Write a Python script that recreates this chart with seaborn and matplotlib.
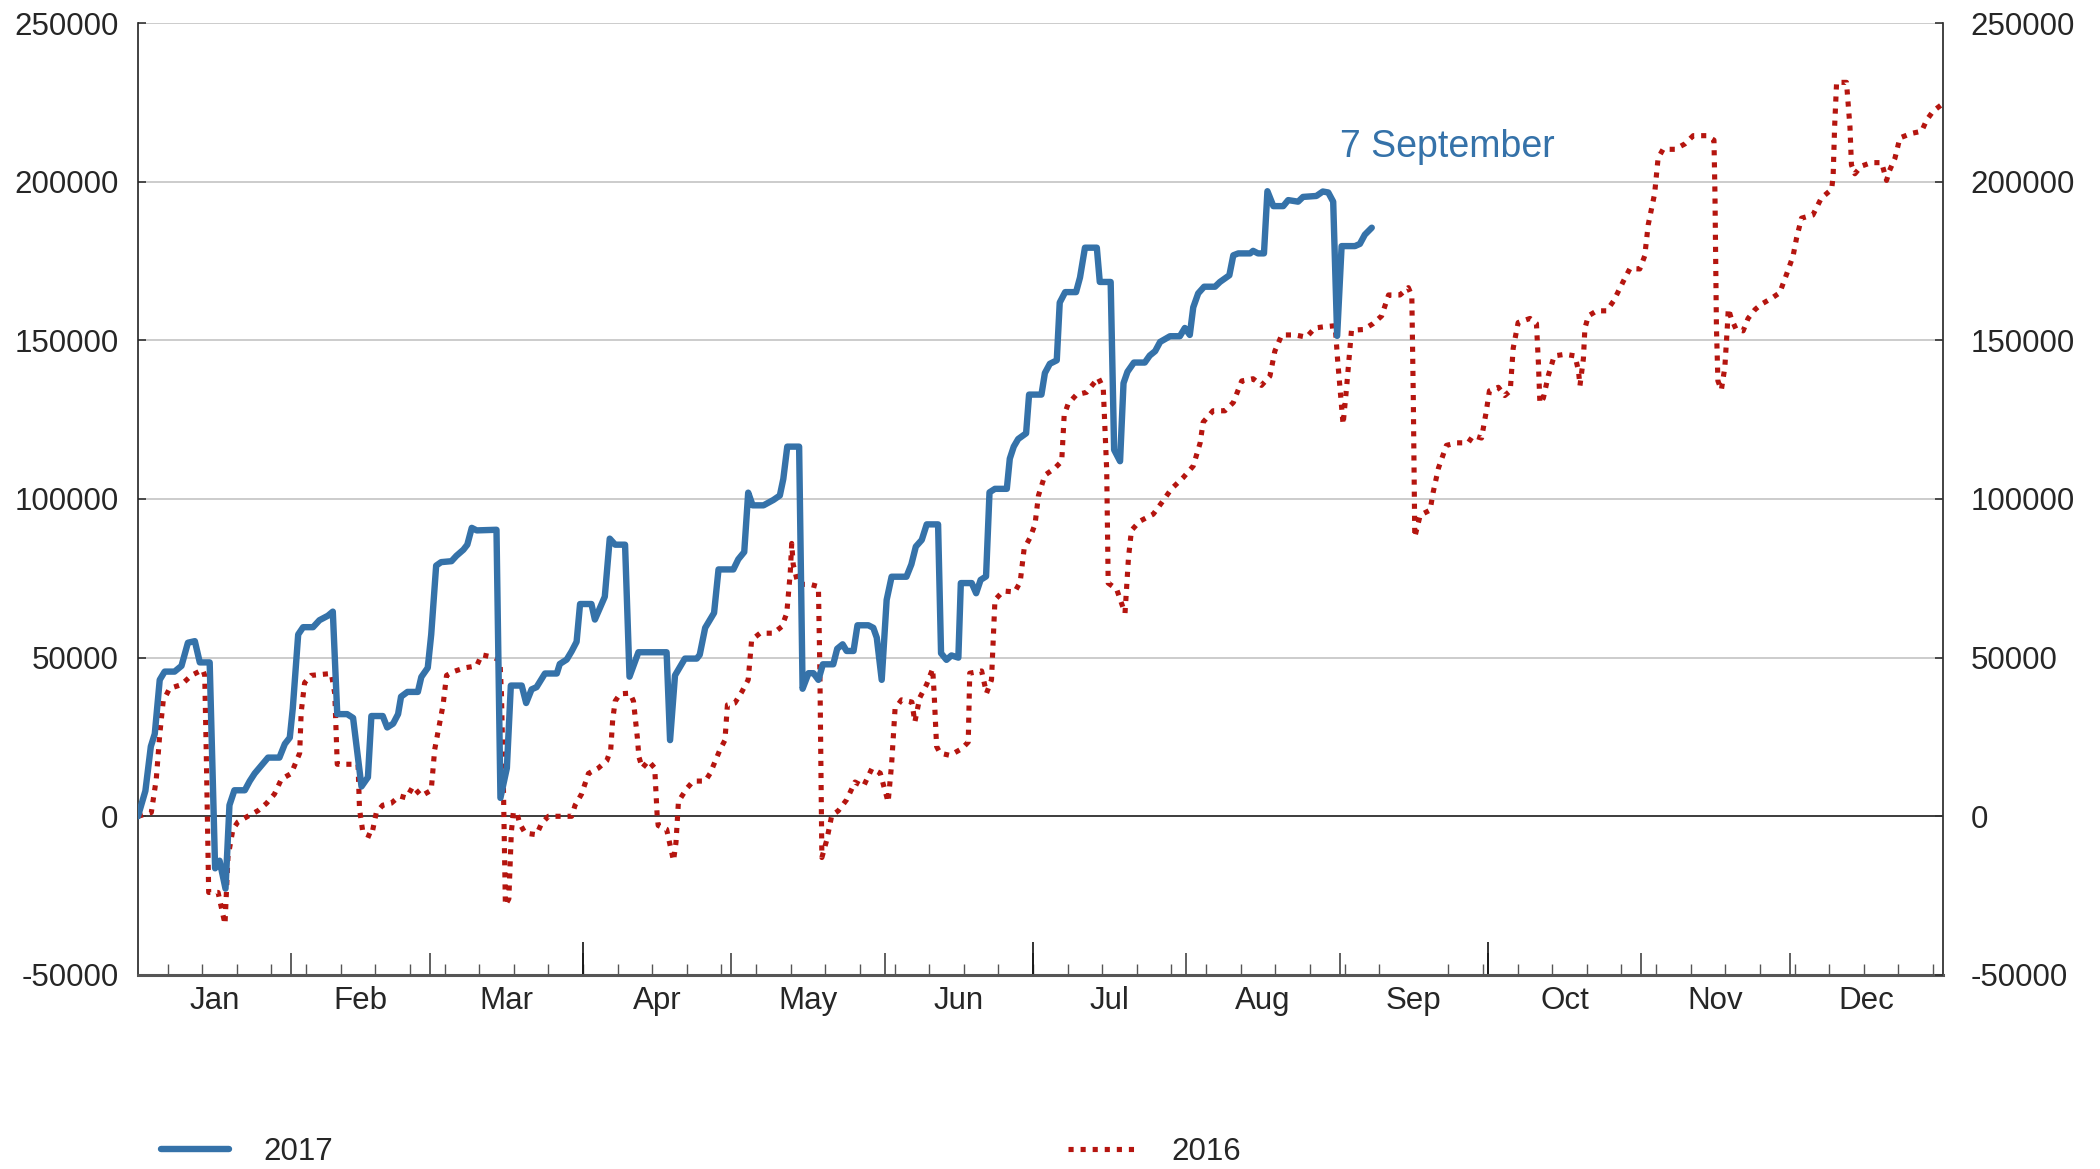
import matplotlib
matplotlib.use("Agg")
import pandas as pd
import seaborn as sns
import matplotlib.pyplot as plt

# 2017 series (day of year, value)
days_2017 = [0, 1.5, 2.6, 3.4, 4.4, 5.4, 7.4, 8.8, 10.1, 11.5, 12.5, 14.5, 15.6, 16.5, 17.7, 18.5, 19.5, 21.6,
             22.6, 23.6, 26.3, 28.6, 29.7, 30.7, 31.3, 32.4, 33.4, 35.4, 36.7, 38.4, 39.4, 40.3, 42.3, 43.5,
             45.2, 46.5, 47.2, 49.5, 50.4, 51.6, 52.6, 53.2, 54.5, 56.6, 57.3, 58.6, 59.3, 60.3, 61.3, 63.4,
             64.4, 65.8, 66.6, 67.5, 68.5, 72.5, 73.3, 74.6, 75.4, 77.6, 78.5, 79.6, 80.6, 82.3, 84.7, 85.3,
             86.7, 87.7, 88.7, 89.4, 91.7, 92.4, 94.4, 95.4, 96.5, 98.5, 99.4, 101.2, 106.9, 107.6, 108.6,
             110.6, 113.0, 113.6, 114.7, 115.7, 116.5, 117.4, 120.4, 121.4, 122.6, 123.4, 124.3, 126.5, 128.5,
             129.8, 130.5, 131.3, 133.7, 134.4, 135.6, 136.6, 137.6, 138.5, 140.6, 141.4, 142.5, 143.3, 144.7,
             145.5, 147.7, 148.7, 149.4, 150.4, 151.4, 152.4, 155.4, 156.4, 157.3, 158.5, 159.5, 161.8, 162.4,
             163.5, 164.5, 165.9, 166.4, 168.6, 169.5, 170.4, 171.5, 172.2, 173.3, 175.7, 176.3, 177.1, 178.0,
             179.6, 180.2, 182.7, 183.4, 184.4, 185.8, 186.4, 187.5, 189.7, 190.5, 191.5, 193.9, 194.5, 196.7,
             197.4, 198.6, 199.3, 200.1, 201.4, 203.6, 204.6, 205.7, 206.7, 208.7, 210.7, 211.7, 212.7, 213.4,
             214.4, 215.6, 217.8, 218.8, 220.7, 221.5, 222.5, 224.9, 225.5, 226.5, 227.7, 228.4, 229.6, 231.6,
             232.6, 234.6, 235.6, 238.3, 239.6, 240.7, 241.7, 242.5, 243.4, 246.1, 247.1, 248.1, 249.5]
values_2017 = [0, 8000, 22000, 26000, 43000, 45600, 45600, 47400, 54700, 55200, 48500, 48500, -16400, -14000,
               -22800, 3500, 8200, 8200, 11100, 13500, 18500, 18500, 22800, 24800, 33900, 57300, 59600, 59600,
               61800, 63200, 64500, 32200, 32200, 31000, 9400, 12300, 31600, 31600, 28000, 29200, 32200, 37700,
               39200, 39200, 43900, 46800, 57300, 79000, 80100, 80400, 82100, 84000, 85600, 90900, 90100, 90300,
               5800, 15200, 41200, 41200, 35700, 40000, 40700, 45000, 45000, 48000, 49400, 52000, 55000, 66900,
               66900, 62000, 69200, 87500, 85600, 85600, 44000, 51700, 51700, 24000, 44400, 49700, 49700, 50900,
               59400, 62000, 64100, 77800, 77800, 81000, 83300, 102000, 98000, 98000, 99700, 101100, 106300,
               116500, 116500, 40200, 45100, 45100, 43000, 47900, 47900, 52800, 54200, 52100, 52100, 60200,
               60200, 59400, 56300, 43000, 68200, 75500, 75500, 79400, 85000, 87100, 92000, 92000, 51400, 49300,
               50700, 50000, 73500, 73500, 70300, 74500, 75600, 102100, 103200, 103200, 112700, 116500, 118900,
               120700, 132900, 132900, 139700, 142600, 143700, 161900, 165200, 165200, 169800, 179200, 179200,
               168400, 168400, 115500, 111900, 136500, 140100, 143000, 143000, 145200, 146600, 149500, 151300,
               151300, 153900, 151700, 160400, 164800, 166900, 166900, 168400, 170500, 176800, 177400, 177400,
               178200, 177400, 177400, 197000, 192300, 192300, 194200, 193700, 195200, 195500, 196900, 196600,
               193700, 151400, 179700, 179700, 180400, 183300, 185500]

# 2016 series
days_2016 = [0, 2.7, 3.7, 4.4, 5.1, 6.4, 8.8, 10.8, 13.1, 13.5, 13.8, 14.3, 16.2, 17.6, 18.2, 19.2, 20.2, 22.2,
             24.3, 26.0, 27.6, 29.0, 31.0, 32.7, 33.0, 33.7, 35.0, 39.1, 39.8, 40.3, 44.5, 44.8, 45.5, 47.2,
             48.2, 49.5, 51.2, 52.9, 54.3, 55.6, 57.3, 59.3, 60.0, 61.0, 61.7, 62.4, 63.8, 66.1, 68.5, 69.5,
             71.9, 73.2, 73.5, 73.9, 74.3, 75.0, 75.5, 75.9, 76.6, 77.2, 78.3, 80.6, 81.6, 83.0, 87.7, 88.4,
             89.7, 91.1, 93.1, 94.8, 95.6, 96.0, 96.5, 97.5, 99.5, 100.2, 101.0, 101.3, 102.0, 103.2, 104.5,
             105.0, 105.2, 106.9, 108.3, 108.8, 109.3, 111.0, 112.3, 114.7, 115.7, 117.7, 118.7, 119.2, 120.7,
             122.1, 123.4, 124.1, 125.8, 128.5, 130.2, 131.2, 131.9, 132.2, 132.5, 133.5, 135.9, 137.6, 137.9,
             138.3, 139.3, 140.3, 141.6, 143.3, 145.0, 146.7, 148.4, 150.1, 151.7, 152.4, 153.1, 154.4, 156.5,
             157.1, 158.1, 159.5, 160.7, 161.0, 161.5, 162.2, 164.2, 166.6, 167.9, 168.2, 170.6, 171.6, 172.6,
             173.3, 175.0, 177.3, 178.4, 179.2, 180.4, 181.4, 182.1, 183.4, 185.4, 186.8, 187.3, 188.1, 189.8,
             191.8, 194.2, 195.2, 195.9, 196.2, 197.9, 199.6, 200.3, 200.9, 202.6, 205.3, 207.0, 209.0, 211.4,
             213.4, 214.8, 215.4, 217.4, 219.8, 221.5, 223.2, 225.5, 227.2, 228.9, 229.9, 231.3, 234.0, 236.3,
             238.0, 240.0, 242.1, 242.6, 243.7, 244.4, 245.4, 247.8, 249.8, 251.5, 252.9, 255.2, 256.9, 257.6,
             257.9, 258.2, 259.3, 261.3, 261.9, 263.0, 264.6, 266.7, 269.0, 270.0, 271.7, 272.6, 273.3, 275.1,
             276.4, 277.5, 278.1, 279.1, 281.5, 282.8, 283.2, 283.5, 284.2, 285.2, 286.4, 288.6, 290.6, 291.3,
             291.6, 292.3, 292.6, 293.3, 295.0, 297.0, 298.4, 300.4, 301.7, 303.7, 304.7, 305.4, 306.7, 307.4,
             308.4, 310.8, 312.8, 314.5, 317.2, 318.7, 318.9, 319.2, 319.5, 320.2, 320.9, 321.4, 321.6, 322.2,
             323.2, 324.6, 325.6, 327.0, 328.3, 330.3, 332.0, 333.4, 334.7, 335.4, 336.4, 338.7, 340.4, 342.5,
             342.8, 343.1, 343.5, 345.5, 346.2, 346.5, 347.2, 348.5, 350.5, 352.6, 353.6, 354.2, 355.3, 356.3,
             358.6, 360.7, 361.7, 363.0, 365.0]
values_2016 = [0, 1200, 11700, 25700, 36300, 40300, 41500, 44400, 46200, 44400, 21000, -24000, -24000, -34000,
               -12900, -4100, -1800, 0, 1800, 4100, 7000, 11700, 13500, 19900, 32700, 42100, 44400, 45000, 38600,
               16400, 16400, 2300, -5300, -6400, 1200, 3500, 4100, 6400, 5800, 9400, 6400, 8200, 21000, 29200,
               35100, 44400, 45600, 46800, 47400, 50900, 50100, 49100, 38600, 9400, -28000, -26000, -5000, 1200,
               1200, -2300, -5300, -5800, -2300, 0, 0, 3500, 7000, 13500, 15200, 17500, 21000, 30400, 36300,
               38600, 38800, 36300, 24600, 18700, 15200, 17500, 15200, 0, -2900, -4100, -14000, -8200, 4700,
               8800, 11100, 11100, 13500, 21000, 24000, 35100, 35700, 39200, 43000, 55600, 57700, 57700, 59800,
               64000, 76600, 86000, 79400, 73100, 73100, 72400, 45800, -13000, -7400, 300, 1700, 5200, 10800,
               9400, 15000, 13600, 4500, 16400, 33900, 36700, 36000, 29700, 37400, 41600, 46500, 38800, 22000,
               19900, 19200, 21300, 23400, 45100, 45800, 38800, 43000, 68200, 71000, 70700, 73800, 84300, 87800,
               92000, 101100, 107500, 109700, 111900, 126400, 130000, 132900, 133600, 138200, 135000, 109000,
               73500, 71600, 64000, 81400, 90100, 93000, 95200, 98800, 103200, 106800, 110400, 117700, 124200,
               127800, 127800, 130400, 137200, 137900, 135800, 138700, 146600, 151700, 151700, 151000, 153900,
               154300, 154600, 143700, 123500, 135000, 153200, 153400, 155300, 157700, 164300, 164300, 166600,
               164000, 131800, 88000, 94900, 96500, 102000, 109800, 116900, 117700, 117700, 120000, 119200,
               127100, 134100, 135200, 132600, 134100, 147500, 155600, 156900, 155300, 142800, 130200, 131800,
               138900, 145100, 145600, 145100, 140400, 135700, 144300, 153800, 157700, 159300, 159300, 162400,
               168700, 172600, 172500, 176600, 186400, 196200, 207400, 210200, 210200, 211900, 214500, 214500,
               213100, 196200, 154100, 137200, 134400, 141500, 154100, 160000, 156900, 153400, 153000, 156900,
               159700, 161400, 163200, 165000, 170900, 176600, 182200, 188500, 189500, 194800, 197600, 201800,
               217300, 231300, 231300, 217300, 205300, 202500, 204900, 206000, 206000, 200400, 203500, 207400,
               213800, 215200, 215900, 219400, 222200, 224600]

month_names = ["Jan", "Feb", "Mar", "Apr", "May", "Jun", "Jul", "Aug", "Sep", "Oct", "Nov", "Dec"]
month_edges = [0, 31, 59, 90, 120, 151, 181, 212, 243, 273, 304, 334, 365]
week_ticks = list(range(6, 365, 7))
y_ticks = [-50000, 0, 50000, 100000, 150000, 200000, 250000]

BLUE = "#3572a9"
RED = "#b5150f"
FS = 22.5

sns.set_style("white")
plt.rcParams["font.family"] = ["Liberation Sans", "DejaVu Sans"]

fig, ax = plt.subplots(figsize=(21, 11.69), dpi=100)
fig.subplots_adjust(left=0.0657, right=0.9252, top=0.9803, bottom=0.166)

df17 = pd.DataFrame({"day": days_2017, "value": values_2017})
df16 = pd.DataFrame({"day": days_2016, "value": values_2016})
sns.lineplot(data=df17, x="day", y="value", ax=ax, color=BLUE, linewidth=4.6, label="2017", zorder=4)
sns.lineplot(data=df16, x="day", y="value", ax=ax, color=RED, linewidth=3.7,
             linestyle=(0, (1.0, 1.35)), label="2016", zorder=3)
handles, labels = ax.get_legend_handles_labels()
ax.get_legend().remove()

ax.set_xlim(0, 365)
ax.set_ylim(-50000, 250000)
ax.set_xlabel("")
ax.set_ylabel("")

# y axis, labels on both sides
ax.set_yticks(y_ticks)
ax.set_yticklabels([str(v) for v in y_ticks])
ax.tick_params(axis="y", direction="in", length=6, width=1.2, color="#333", labelsize=FS, pad=14)
ax2 = ax.twinx()
ax2.set_ylim(-50000, 250000)
ax2.set_yticks(y_ticks)
ax2.set_yticklabels([str(v) for v in y_ticks])
ax2.tick_params(axis="y", direction="in", length=6, width=1.2, color="#333", labelsize=FS, pad=20)
for s in ax2.spines.values():
    s.set_visible(False)

ax.grid(axis="y", color="#c8c8c8", linewidth=1.3)
ax.grid(axis="x", visible=False)
ax.axhline(0, color="#333333", linewidth=1.3, zorder=2)

# x axis: month labels in the middle of each month, weekly small ticks
mids = [(month_edges[i] + month_edges[i + 1]) / 2 for i in range(12)]
ax.set_xticks(mids)
ax.set_xticklabels(month_names)
ax.set_xticks(week_ticks, minor=True)
ax.tick_params(axis="x", which="major", length=0, labelsize=FS, pad=8)
ax.tick_params(axis="x", which="minor", direction="in", length=8, width=1, color="#555", bottom=True)
ax.vlines(month_edges[1:-1], -50000, -50000 + 6900, color="#444", linewidth=1.2, zorder=2)
ax.vlines(month_edges[3:-1:3], -50000, -50000 + 10400, color="#111", linewidth=1.2, zorder=2)

ax.spines["top"].set_visible(False)
ax.spines["bottom"].set_color("#555")
ax.spines["bottom"].set_linewidth(2.2)
for side in ["left", "right"]:
    ax.spines[side].set_color("#222")
    ax.spines[side].set_linewidth(1.2)

ax.text(243, 211000, "7 September", color=BLUE, fontsize=27, ha="left", va="center")

fig.legend(handles, labels, loc="center left", bbox_to_anchor=(0.0765, 0.0145), ncol=2, frameon=False,
           fontsize=FS, handlelength=2.2, handletextpad=1.1, columnspacing=23.5, borderpad=0, borderaxespad=0)

fig.savefig("out.png", dpi=100)
